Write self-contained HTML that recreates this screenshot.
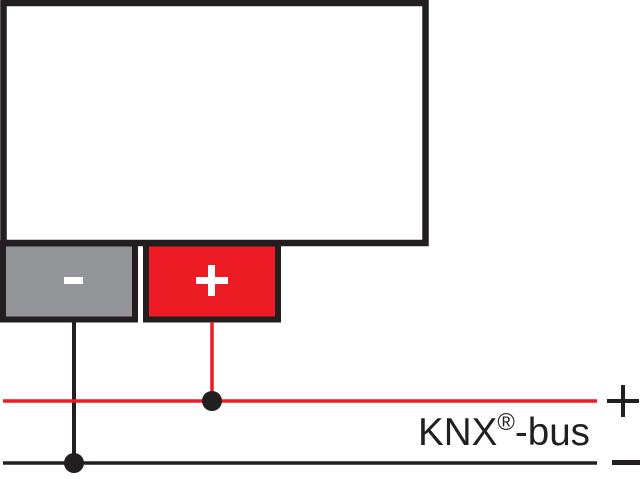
<!DOCTYPE html>
<html><head><style>
body{margin:0;background:#fff;width:640px;height:474px;overflow:hidden}
</style></head><body>
<svg width="640" height="474" xmlns="http://www.w3.org/2000/svg">
<rect x="3.5" y="3" width="422" height="240" fill="#fff" stroke="#231f20" stroke-width="6.5"/>
<rect x="3" y="243.5" width="132" height="76" fill="#939598" stroke="#231f20" stroke-width="6"/>
<rect x="146" y="243.5" width="132" height="76" fill="#ed1c24" stroke="#231f20" stroke-width="6"/>
<rect x="64" y="277" width="19" height="7" fill="#fff"/>
<rect x="196" y="277" width="32" height="7" fill="#fff"/>
<rect x="208" y="265" width="7" height="31" fill="#fff"/>
<line x1="74" y1="322" x2="74" y2="463" stroke="#231f20" stroke-width="4"/>
<line x1="212" y1="322" x2="212" y2="401" stroke="#ed1c24" stroke-width="3.5"/>
<line x1="3" y1="401" x2="597" y2="401" stroke="#ed1c24" stroke-width="3.5"/>
<line x1="3" y1="463" x2="597" y2="463" stroke="#231f20" stroke-width="3.5"/>
<circle cx="212" cy="401" r="10" fill="#231f20"/>
<circle cx="74" cy="463" r="10" fill="#231f20"/>
<text x="418" y="445" font-family="Liberation Sans, sans-serif" font-size="39" fill="#231f20" textLength="172" lengthAdjust="spacingAndGlyphs">KNX<tspan font-size="24" dy="-15">®</tspan><tspan dy="15">-bus</tspan></text>
<rect x="607" y="399" width="32" height="4" fill="#231f20"/>
<rect x="621" y="385" width="4" height="32" fill="#231f20"/>
<rect x="612" y="460" width="28" height="5" fill="#231f20"/>
</svg>
</body></html>
